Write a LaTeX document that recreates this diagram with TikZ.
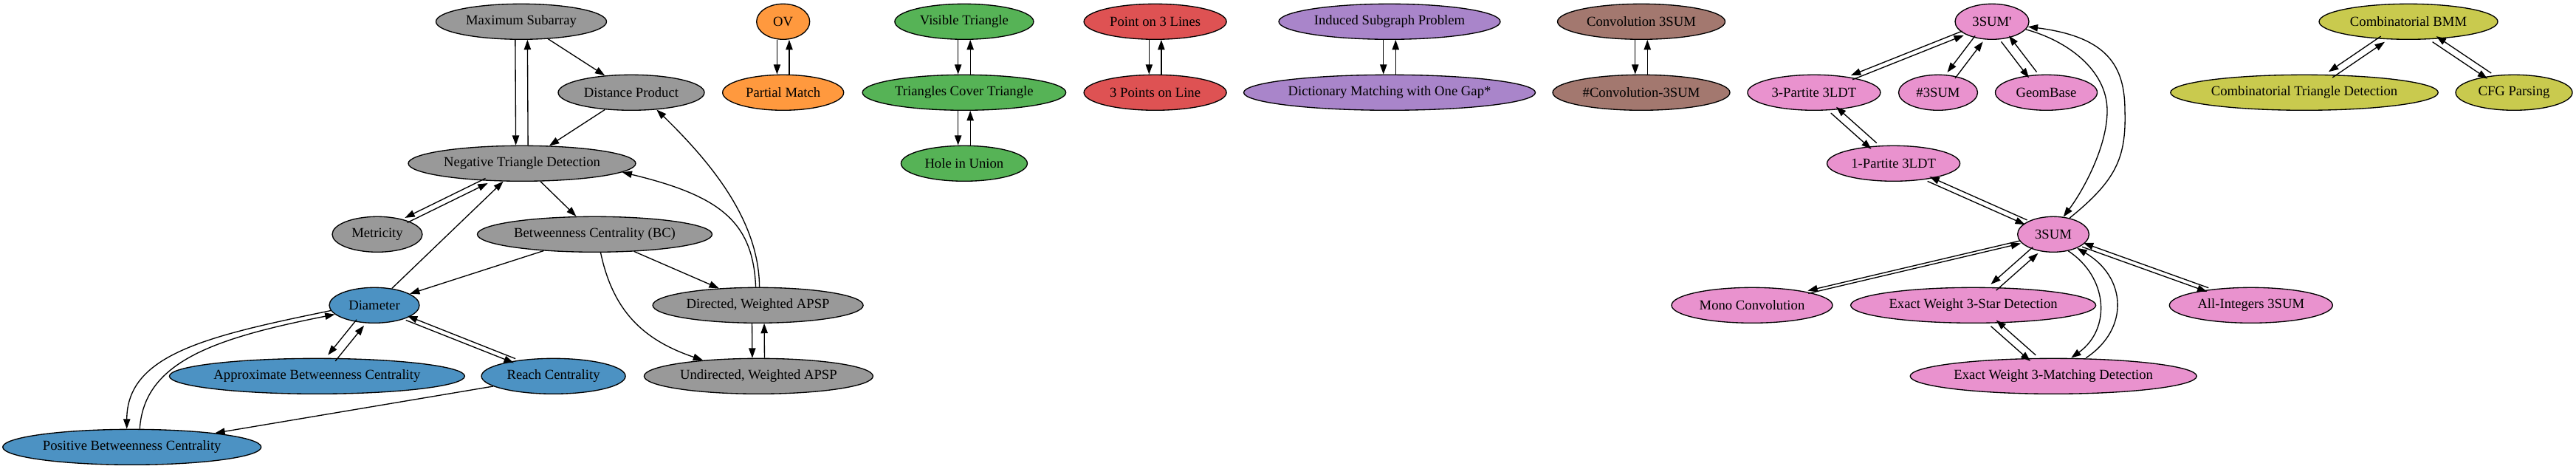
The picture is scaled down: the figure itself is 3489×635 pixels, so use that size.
\documentclass[tikz,border=0pt]{standalone}
\usepackage{fontspec}
\newfontfamily\gvfont{Liberation Serif}
\usetikzlibrary{shapes.geometric,arrows.meta,calc}
\definecolor{cgray}{HTML}{999999}
\definecolor{cblue}{HTML}{4C92C3}
\definecolor{corange}{HTML}{FF993E}
\definecolor{cgreen}{HTML}{56B356}
\definecolor{cred}{HTML}{DE5253}
\definecolor{cpurple}{HTML}{A985CA}
\definecolor{cbrown}{HTML}{A3786F}
\definecolor{cpink}{HTML}{E992CE}
\definecolor{colive}{HTML}{C9CA4E}
\makeatletter
\newcommand\twoway[2]{%
  \pgfpointdiff{\pgfpointanchor{#1}{center}}{\pgfpointanchor{#2}{center}}%
  \edef\tw@dx{\strip@pt\pgf@x}\edef\tw@dy{\strip@pt\pgf@y}%
  \pgfmathsetmacro\tw@l{veclen(\tw@dx/100,\tw@dy/100)}%
  \pgfmathsetmacro\tw@ux{\tw@dx/100/\tw@l}%
  \pgfmathsetmacro\tw@uy{\tw@dy/100/\tw@l}%
  \pgfmathsetmacro\tw@ox{6.2*abs(\tw@uy)*\tw@uy}%
  \pgfmathsetmacro\tw@oy{-6.2*abs(\tw@uy)*\tw@ux}%
  \pgfmathsetmacro\tw@nx{-1*(\tw@ox)}%
  \pgfmathsetmacro\tw@ny{-1*(\tw@oy)}%
  \draw[arr,transform canvas={shift={(\tw@ox pt,\tw@oy pt)}}] (#1) -- (#2);
  \draw[arr,transform canvas={shift={(\tw@nx pt,\tw@ny pt)}}] (#2) -- (#1);
}
\makeatother
\begin{document}
\begin{tikzpicture}[x=0.75pt,y=-0.75pt,
  nd/.style={ellipse, draw=black, line width=1pt, inner sep=0pt, minimum height=36pt,
    font={\gvfont\fontsize{14}{16.8}\selectfont}},
  wd/.style={minimum width=#1*0.75pt},
  arr/.style={-{Triangle[length=10pt,width=7pt]}, line width=1pt, draw=black}]
\fill[white] (0,0) rectangle (3489,635);
\useasboundingbox (0,0) rectangle (3489,635);
% gray / blue cluster
\node[nd,fill=cgray,wd=231] (ms) at (706,29.3) {Maximum Subarray};
\node[nd,fill=cgray,wd=198] (dp) at (855,125.3) {Distance Product};
\node[nd,fill=cgray,wd=308] (ntd) at (707,221.3) {Negative Triangle Detection};
\node[nd,fill=cgray,wd=122] (met) at (511,317.3) {Metricity};
\node[nd,fill=cgray,wd=318] (bc) at (805.5,317.3) {Betweenness Centrality (BC)};
\node[nd,fill=cblue,wd=122] (dia) at (507,413.3) {Diameter};
\node[nd,fill=cgray,wd=285] (dap) at (1026.6,413.3) {Directed, Weighted APSP};
\node[nd,fill=cblue,wd=400] (abc) at (429.4,509.3) {Approximate Betweenness Centrality};
\node[nd,fill=cblue,wd=195] (rc) at (749.6,509.3) {Reach Centrality};
\node[nd,fill=cgray,wd=310] (uap) at (1027.4,509.3) {Undirected, Weighted APSP};
\node[nd,fill=cblue,wd=350] (pbc) at (178.7,605.3) {Positive Betweenness Centrality};
% small clusters
\node[nd,fill=corange,wd=72] (ov) at (1060.7,29.3) {OV};
\node[nd,fill=corange,wd=164] (pm) at (1060.7,125.3) {Partial Match};
\node[nd,fill=cgreen,wd=188] (vt) at (1305.9,29.3) {Visible Triangle};
\node[nd,fill=cgreen,wd=275.5] (tct) at (1305.9,125.3) {Triangles Cover Triangle};
\node[nd,fill=cgreen,wd=171] (hiu) at (1305.9,221.3) {Hole in Union};
\node[nd,fill=cred,wd=193] (pol) at (1564.6,29.3) {Point on 3 Lines};
\node[nd,fill=cred,wd=193] (tpl) at (1564.6,125.3) {3 Points on Line};
\node[nd,fill=cpurple,wd=300] (isp) at (1882,29.3) {Induced Subgraph Problem};
\node[nd,fill=cpurple,wd=395] (dmg) at (1882,125.3) {Dictionary Matching with One Gap*};
\node[nd,fill=cbrown,wd=227] (cs) at (2223,29.3) {Convolution 3SUM};
\node[nd,fill=cbrown,wd=240] (hcs) at (2223,125.3) {\#Convolution-3SUM};
% pink cluster
\node[nd,fill=cpink,wd=100] (sp) at (2698,29.3) {3SUM'};
\node[nd,fill=cpink,wd=180] (tp) at (2456.9,125.3) {3-Partite 3LDT};
\node[nd,fill=cpink,wd=107] (hs) at (2625,125.3) {\#3SUM};
\node[nd,fill=cpink,wd=138] (gb) at (2771.5,125.3) {GeomBase};
\node[nd,fill=cpink,wd=180] (op) at (2564.6,221.3) {1-Partite 3LDT};
\node[nd,fill=cpink,wd=96.7] (ts) at (2781,317.3) {3SUM};
\node[nd,fill=cpink,wd=218] (mc) at (2373,413.3) {Mono Convolution};
\node[nd,fill=cpink,wd=332] (ews) at (2672.6,413.3) {Exact Weight 3-Star Detection};
\node[nd,fill=cpink,wd=221] (ai) at (3048.8,413.3) {All-Integers 3SUM};
\node[nd,fill=cpink,wd=388] (ewm) at (2781.2,509.3) {Exact Weight 3-Matching Detection};
% olive cluster
\node[nd,fill=colive,wd=242] (cb) at (3262,29.3) {Combinatorial BMM};
\node[nd,fill=colive,wd=362.5] (ctd) at (3121,125.3) {Combinatorial Triangle Detection};
\node[nd,fill=colive,wd=158] (cfg) at (3405,125.3) {CFG Parsing};
% edges gray/blue
\draw[arr] (ms) -- (dp);
\draw[arr] (dp) -- (ntd);
\twoway{ms}{ntd}
\twoway{ntd}{met}
\draw[arr] (dia) -- (ntd);
\draw[arr] (ntd) -- (bc);
\draw[arr] (bc) -- (dia);
\draw[arr] (bc) -- (dap);
\draw[arr] ([shift={(8,0)}]bc.south) .. controls (830,420) and (870,460) .. (uap.164);
\draw[arr] ([shift={(2,0)}]dap.north) .. controls (1028,300) and (965,222) .. (dp.-34);
\draw[arr] ([shift={(-3,0)}]dap.north) .. controls (1020,300) and (975,265) .. (ntd.-5);
\twoway{dap}{uap}
\twoway{dia}{abc}
\twoway{dia}{rc}
\draw[arr] (rc) -- (pbc);
\draw[arr] (dia.187) .. controls (280,455) and (172,480) .. ([shift={(-7,0)}]pbc.north);
\draw[arr] ([shift={(10.6,0)}]pbc.north) .. controls (195,490) and (290,458) .. (dia.193);
% small clusters
\twoway{ov}{pm}
\twoway{vt}{tct}
\twoway{tct}{hiu}
\twoway{pol}{tpl}
\twoway{isp}{dmg}
\twoway{cs}{hcs}
% pink
\twoway{sp}{tp}
\twoway{sp}{hs}
\twoway{sp}{gb}
\twoway{tp}{op}
\twoway{op}{ts}
\twoway{ts}{mc}
\twoway{ts}{ews}
\twoway{ts}{ai}
\twoway{ews}{ewm}
\draw[arr] (sp.-13) .. controls (2800,55) and (2854,95) .. (2854,150) .. controls (2854,200) and (2820,260) .. (ts.60);
\draw[arr] (ts.45) .. controls (2865,245) and (2880,215) .. (2878,150) .. controls (2878,90) and (2855,50) .. (sp.-8);
\draw[arr] (ts.-48) .. controls (2855,375) and (2860,445) .. ([shift={(24,0)}]ewm.north);
\draw[arr] ([shift={(44,0)}]ewm.north) .. controls (2885,445) and (2880,375) .. (ts.-30);
% olive
\twoway{cb}{ctd}
\twoway{cb}{cfg}
\end{tikzpicture}
\end{document}
